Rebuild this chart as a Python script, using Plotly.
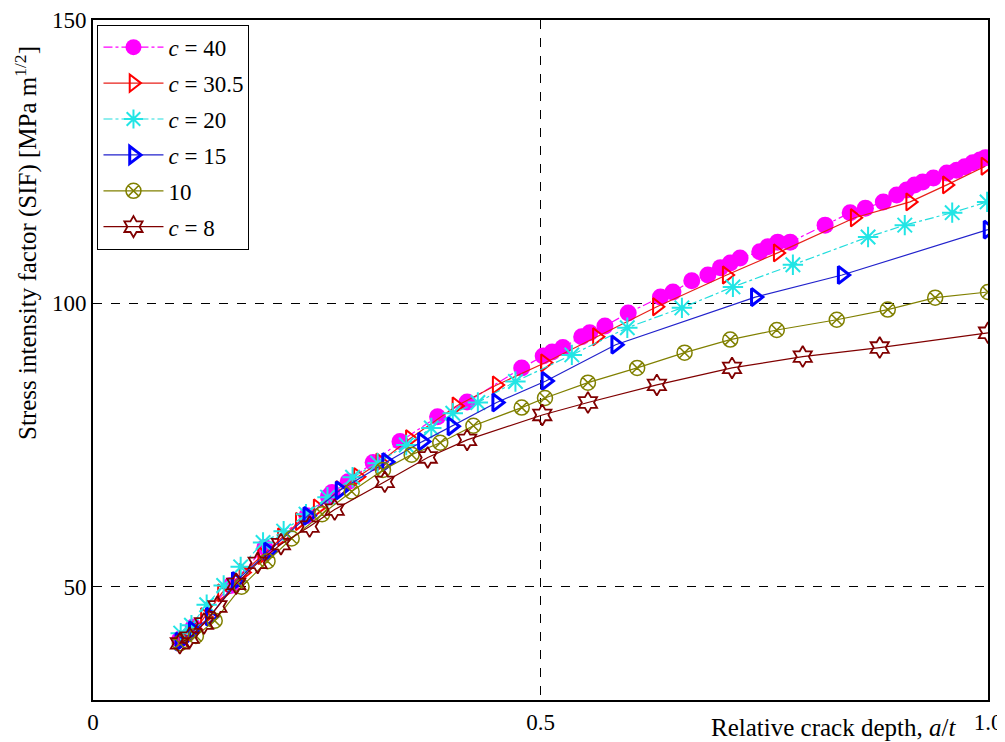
import plotly.graph_objects as go

# ---- data ----
x_c40 = [0.097, 0.112, 0.154, 0.192, 0.239, 0.263, 0.267, 0.285, 0.313, 0.343, 0.385, 0.418,
         0.479, 0.503, 0.513, 0.525, 0.546, 0.555, 0.572, 0.598, 0.634, 0.648, 0.669, 0.687,
         0.701, 0.712, 0.723, 0.745, 0.754, 0.765, 0.779, 0.818, 0.846, 0.863, 0.883, 0.898,
         0.909, 0.918, 0.927, 0.939, 0.954, 0.965, 0.974, 0.983, 0.991, 0.997]
y_c40 = [40.7, 42.9, 50.2, 56.9, 62.5, 65.9, 66.6, 68.5, 71.9, 75.6, 80.0, 82.6,
         88.6, 90.7, 91.4, 92.2, 94.1, 94.8, 96.0, 98.3, 101.1, 102.0, 104.0, 105.0,
         106.3, 107.1, 108.0, 109.1, 110.0, 110.8, 110.8, 113.8, 116.0, 116.8, 117.9, 119.1,
         120.0, 120.9, 121.4, 122.1, 123.0, 123.5, 124.1, 124.8, 125.3, 125.7]

x_c30 = [0.101, 0.114, 0.125, 0.144, 0.168, 0.189, 0.211, 0.231, 0.251, 0.276, 0.296, 0.321,
         0.354, 0.406, 0.451, 0.505, 0.563, 0.630, 0.708, 0.765, 0.851, 0.913, 0.954, 0.997]
y_c30 = [40.7, 42.4, 44.7, 48.9, 52.5, 55.5, 58.8, 61.5, 63.9, 67.1, 69.4, 72.0,
         76.1, 81.9, 85.6, 89.5, 94.1, 99.4, 105.0, 108.9, 115.1, 117.9, 120.9, 124.2]

x_c20 = [0.098, 0.110, 0.127, 0.146, 0.165, 0.190, 0.213, 0.238, 0.262, 0.290, 0.318, 0.350,
         0.378, 0.402, 0.430, 0.472, 0.535, 0.597, 0.658, 0.715, 0.782, 0.866, 0.907, 0.960, 0.999]
y_c20 = [41.8, 43.2, 46.8, 50.2, 53.5, 57.8, 59.8, 62.8, 65.8, 69.3, 71.8, 75.0,
         78.0, 80.6, 82.5, 86.2, 90.9, 95.7, 99.2, 102.9, 106.8, 111.7, 113.8, 116.0, 117.9]

x_c15 = [0.097, 0.112, 0.131, 0.160, 0.196, 0.240, 0.276, 0.328, 0.368, 0.401, 0.451, 0.506,
         0.584, 0.740, 0.837, 1.0]
y_c15 = [40.3, 42.3, 44.7, 51.0, 56.2, 62.5, 67.0, 72.0, 75.6, 78.3, 82.5, 86.3,
         92.7, 101.1, 105.0, 113.0]

x_c10 = [0.097, 0.115, 0.136, 0.166, 0.195, 0.222, 0.256, 0.289, 0.324, 0.356, 0.388, 0.425,
         0.479, 0.505, 0.553, 0.608, 0.661, 0.712, 0.764, 0.831, 0.888, 0.941, 1.0]
y_c10 = [40.0, 41.3, 44.0, 50.0, 54.5, 58.5, 62.8, 66.8, 70.6, 73.3, 75.4, 78.4,
         81.6, 83.3, 86.0, 88.6, 91.3, 93.6, 95.3, 97.1, 98.9, 101.0, 102.0]

x_c8 = [0.097, 0.108, 0.124, 0.139, 0.160, 0.184, 0.210, 0.242, 0.270, 0.326, 0.374, 0.418,
        0.502, 0.553, 0.630, 0.714, 0.793, 0.879, 1.0]
y_c8 = [40.0, 41.0, 43.5, 46.5, 50.5, 54.2, 57.5, 60.6, 63.6, 68.5, 72.8, 75.9,
        80.3, 82.5, 85.6, 88.6, 90.6, 92.2, 94.8]

labels = ["<i>c</i> = 40", "<i>c</i> = 30.5", "<i>c</i> = 20", "<i>c</i> = 15", "10", "<i>c</i> = 8"]
x_ticks = [0, 0.5, 1.0]
x_ticklabels = ["0", "0.5", "1.0"]
y_ticks = [50, 100, 150]

series = [
    (x_c40, y_c40, dict(color="#ff00ff", dash="dashdot", width=1.2), dict(symbol="circle", size=17, color="#ff00ff")),
    (x_c30, y_c30, dict(color="#e8201a", dash="solid", width=1.2), dict(symbol="triangle-right-open", size=15, color="#ff0000", line=dict(width=2, color="#ff0000"))),
    (x_c20, y_c20, dict(color="#22dddd", dash="dashdot", width=1.2), dict(symbol="asterisk-open", size=17, color="#22e5e5", line=dict(width=2, color="#22e5e5"))),
    (x_c15, y_c15, dict(color="#2222cc", dash="solid", width=1.2), dict(symbol="triangle-right-open", size=15, color="#0000ff", line=dict(width=3, color="#0000ff"))),
    (x_c10, y_c10, dict(color="#808000", dash="solid", width=1.2), dict(symbol="circle-x-open", size=15, color="#808000", line=dict(width=1.5, color="#808000"))),
    (x_c8, y_c8, dict(color="#800000", dash="solid", width=1.2), dict(symbol="hexagram-open", size=16, color="#800000", line=dict(width=1.8, color="#800000"))),
]

fig = go.Figure()
for i, ((xs, ys, ln, mk), lab) in enumerate(zip(series, labels)):
    fig.add_trace(go.Scatter(x=xs, y=ys, mode="lines+markers", name=lab,
                             line=ln, marker=mk, legendgroup=f"g{i}"))

# the page body has an 8px default margin, so the figure is 8px smaller
font_family = "Liberation Serif, DejaVu Serif, serif"
fig.update_layout(
    width=997, height=734,
    margin=dict(l=85, r=17, t=12, b=42, autoexpand=False),
    paper_bgcolor="white", plot_bgcolor="white",
    font=dict(family=font_family, size=22, color="black"),
    showlegend=True,
    legend=dict(x=0.005, y=0.993, xanchor="left", yanchor="top",
                bgcolor="white", bordercolor="black", borderwidth=1,
                font=dict(family=font_family, size=23), tracegroupgap=3,
                itemwidth=60),
    xaxis=dict(range=[0, 1], tickvals=x_ticks, ticktext=x_ticklabels,
               showgrid=True, gridcolor="black", griddash="dash", gridwidth=1,
               showline=True, linecolor="black", linewidth=2, mirror=True,
               zeroline=False, ticks="", tickfont=dict(size=23), automargin=False),
    yaxis=dict(range=[30, 150], tickvals=y_ticks,
               showgrid=True, gridcolor="black", griddash="dash", gridwidth=1,
               showline=True, linecolor="black", linewidth=2, mirror=True,
               zeroline=False, ticks="", tickfont=dict(size=23), automargin=False),
    annotations=[
        dict(text="Relative crack depth, <i>a</i>/<i>t</i>", xref="paper", yref="paper",
             x=0.967, y=-0.040, xanchor="right", yanchor="middle", showarrow=False,
             font=dict(size=25)),
        dict(text="Stress intensity factor (SIF) [MPa m<sup>1/2</sup>]", xref="paper", yref="paper",
             x=-0.075, y=0.672, xanchor="center", yanchor="middle", textangle=-90,
             showarrow=False, font=dict(size=25)),
    ],
)

fig.write_html("out.html")
